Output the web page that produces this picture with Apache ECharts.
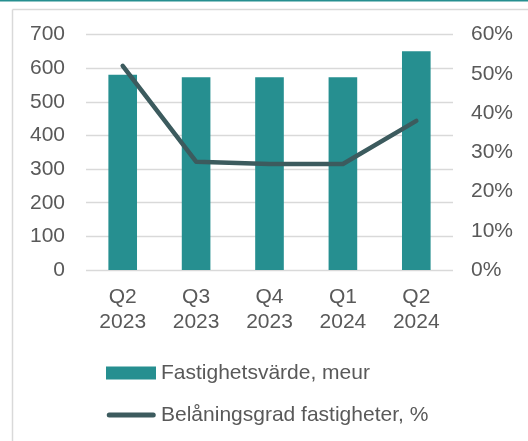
<!DOCTYPE html>
<html>
<head>
<meta charset="utf-8">
<script src="https://cdn.jsdelivr.net/npm/echarts@6/dist/echarts.min.js"></script>
<style>
  html, body { margin: 0; padding: 0; background: #fff; }
  #chart { width: 528px; height: 441px; }
</style>
</head>
<body>
<div id="chart"></div>
<script>
const categories = ['Q2\n2023', 'Q3\n2023', 'Q4\n2023', 'Q1\n2024', 'Q2\n2024']
const propertyValue = [580, 573, 573, 573, 650]
const loanToValue = [52, 27.6, 27, 27, 38]
const leftTicks = [0, 100, 200, 300, 400, 500, 600, 700]
const rightTicks = [0, 10, 20, 30, 40, 50, 60]

const teal = '#268f90'
const slate = '#3c5b5e'
const textColor = '#595959'
const font = 'Liberation Sans, Arial, sans-serif'

// thin rounded bar centred in a 50x13 box (zero-area points pin the box)
const lineIcon = 'path://M0,0 L0.01,0 M0,13 L0.01,13 M3,4 H47 A2.5,2.5 0 0 1 47,9 H3 A2.5,2.5 0 0 1 3,4 Z'

const chart = echarts.init(document.getElementById('chart'))

chart.setOption({
  animation: false,
  textStyle: { fontFamily: font },
  graphic: [
    { type: 'line', shape: { x1: 0, y1: 0.5, x2: 528, y2: 0.5 }, style: { stroke: teal, lineWidth: 2 } },
    { type: 'line', shape: { x1: 12.5, y1: 9.5, x2: 528, y2: 9.5 }, style: { stroke: '#d9d9d9', lineWidth: 1.5 } },
    { type: 'line', shape: { x1: 12.5, y1: 9.5, x2: 12.5, y2: 441 }, style: { stroke: '#d9d9d9', lineWidth: 1.5 } }
  ],
  grid: { left: 86, right: 75, top: 34.5, bottom: 171 },
  legend: {
    orient: 'vertical',
    left: 101,
    top: 357,
    itemWidth: 50,
    itemHeight: 13,
    itemGap: 20,
    textStyle: { color: textColor, fontSize: 21, lineHeight: 22, fontFamily: font },
    data: [
      { name: 'Fastighetsvärde, meur', icon: 'rect' },
      { name: 'Belåningsgrad fastigheter, %', icon: lineIcon, itemStyle: { color: slate } }
    ]
  },
  xAxis: {
    type: 'category',
    data: categories,
    axisLine: { show: false },
    axisTick: { show: false },
    axisLabel: { color: textColor, fontSize: 21, lineHeight: 24.5, margin: 15, interval: 0 }
  },
  yAxis: [
    {
      type: 'value',
      min: leftTicks[0],
      max: leftTicks[leftTicks.length - 1],
      interval: 100,
      axisLabel: { color: textColor, fontSize: 21, margin: 21 },
      splitLine: { lineStyle: { color: '#d9d9d9', width: 1.3 } }
    },
    {
      type: 'value',
      min: rightTicks[0],
      max: rightTicks[rightTicks.length - 1],
      interval: 10,
      axisLabel: { color: textColor, fontSize: 21, margin: 18, formatter: '{value}%' },
      splitLine: { show: false }
    }
  ],
  series: [
    {
      name: 'Fastighetsvärde, meur',
      type: 'bar',
      data: propertyValue,
      barWidth: '39%',
      itemStyle: { color: teal }
    },
    {
      name: 'Belåningsgrad fastigheter, %',
      type: 'line',
      yAxisIndex: 1,
      data: loanToValue,
      symbol: 'none',
      lineStyle: { color: slate, width: 4.5, cap: 'round', join: 'round' },
      itemStyle: { color: slate }
    }
  ]
})
</script>
</body>
</html>
